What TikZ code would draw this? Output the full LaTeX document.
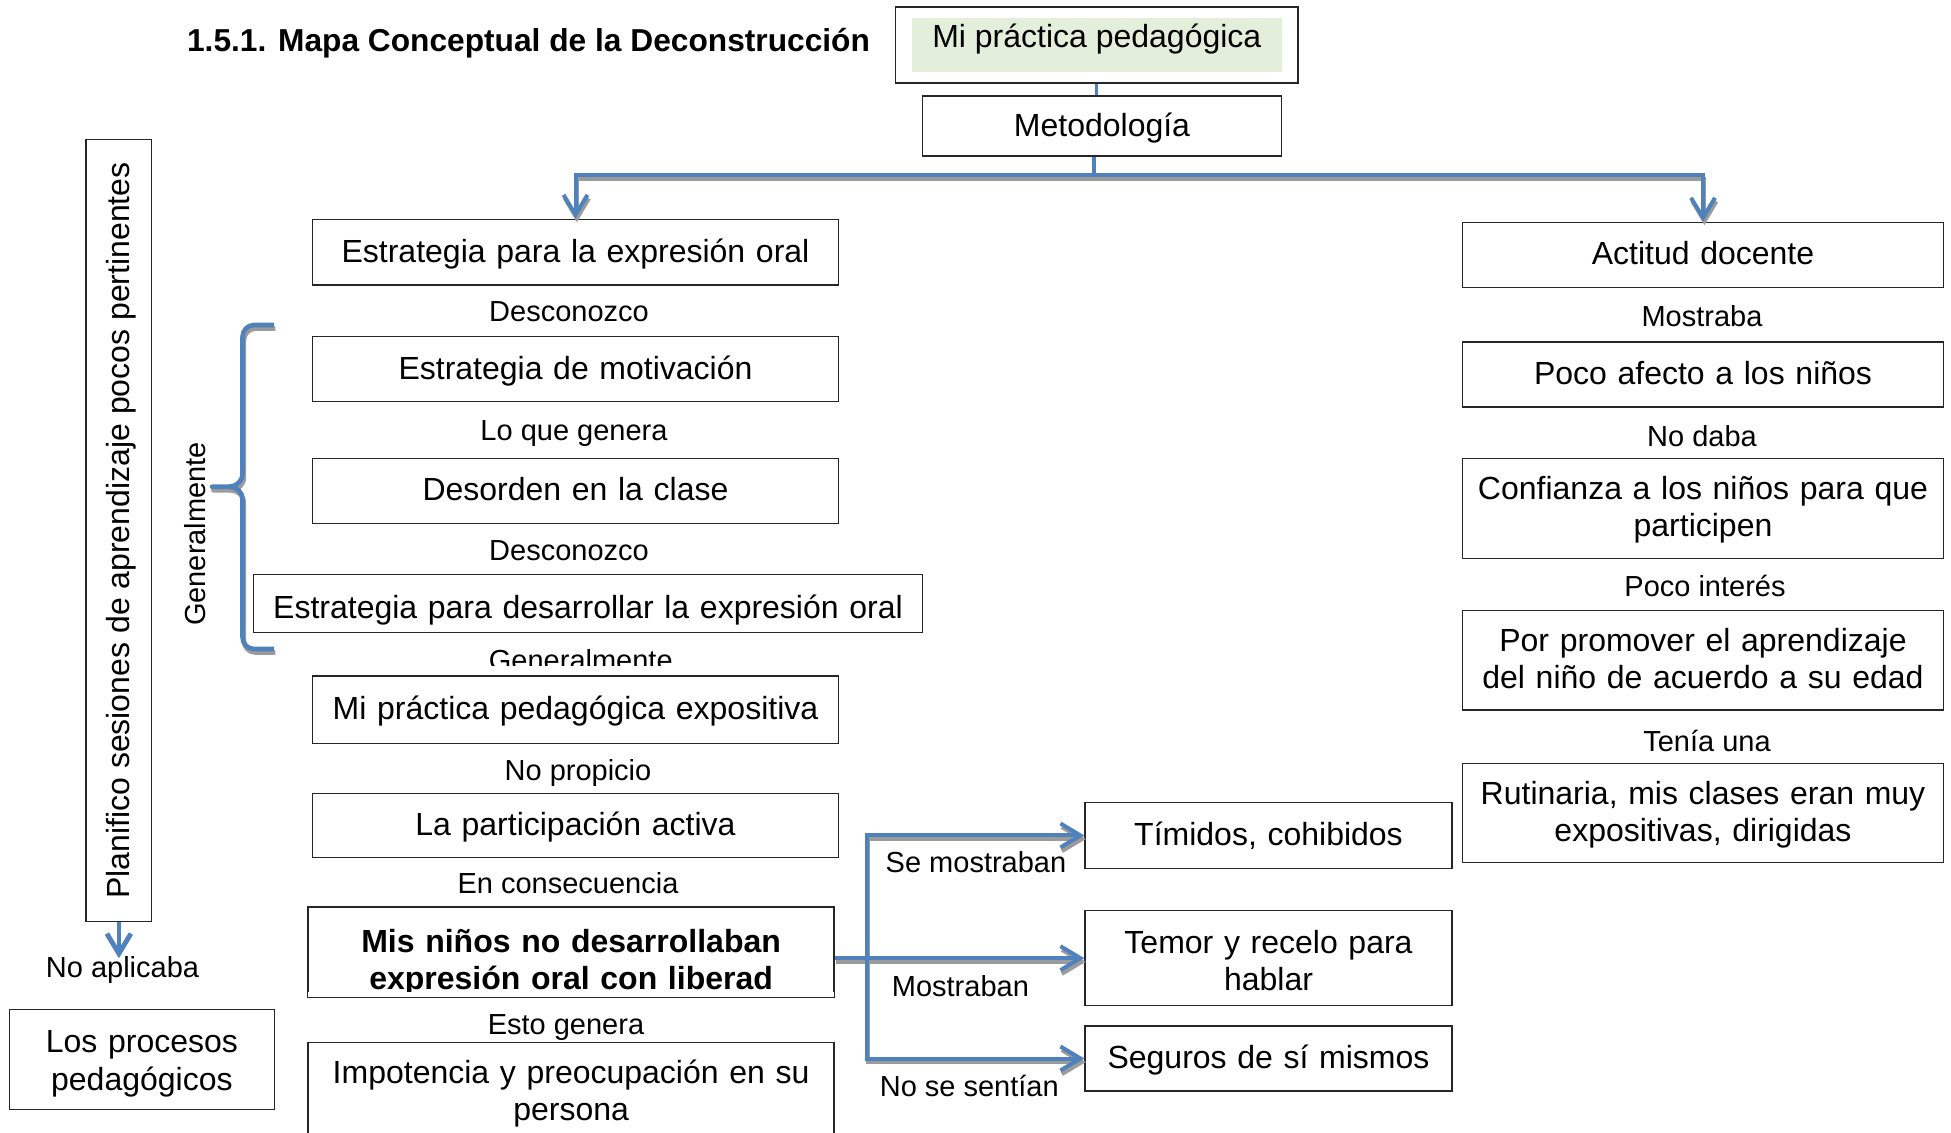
\documentclass[tikz,border=0pt]{standalone}
\usepackage{fontspec}
\setmainfont{Liberation Sans}
\usetikzlibrary{arrows.meta, fit}

\definecolor{mapblue}{RGB}{79,129,189}
\definecolor{mapgray}{RGB}{155,155,155}
\definecolor{mapgreen}{RGB}{227,239,219}

\tikzset{
  concept/.style={draw=black!85, line width=0.65pt, inner sep=0pt, align=center,
    font=\fontsize{16}{18.6}\selectfont, text height=12.5pt, text depth=2.4pt},
  twolines/.style={text depth=21pt},
  leftbox/.style={concept, text width=263pt},
  rightbox/.style={concept, text width=240.5pt},
  midbox/.style={concept, text width=183.5pt},
  linkword/.style={font=\fontsize{14.5}{16}\selectfont, anchor=base, inner sep=0pt},
  flow/.style={draw=mapblue, line width=2pt, >={Straight Barb[length=10pt, width=12pt]}},
  flowshadow/.style={draw=mapgray, line width=2pt, >={Straight Barb[length=10pt, width=12pt]},
    transform canvas={xshift=0.7pt, yshift=-1.8pt}},
  curlyline/.style={draw=mapblue, line width=2.3pt, line join=round}
}

\begin{document}
\begin{tikzpicture}[x=0.5pt, y=-0.5pt]
  \useasboundingbox (0,0) rectangle (1951,1133);

  \node[anchor=base west, font=\bfseries\fontsize{15.85}{18}\selectfont] at (180,52) (title) {1.5.1. Mapa Conceptual de la Deconstrucción};

  \node[fill=mapgreen, anchor=north, minimum width=184.8pt, inner xsep=0pt, inner ysep=2pt,
    text height=12.7pt, text depth=10.5pt, font=\fontsize{16}{17.5}\selectfont] at (1096.8,17.3) (root) {Mi práctica pedagógica};
  \node[draw=black!85, line width=0.65pt, fit=(root), inner xsep=8pt, inner ysep=5.2pt] (rootframe) {};
  \node[concept, minimum width=179.65pt, minimum height=30pt] at (1102,126) (metod) {Metodología};

  % columna izquierda
  \node[leftbox, minimum height=32.85pt] at (575.5,252.2) (estr1) {Estrategia para la expresión oral};
  \node[leftbox, minimum height=32.5pt] at (575.5,369.2) (motiv) {Estrategia de motivación};
  \node[leftbox, minimum height=32.5pt] at (575.5,490.8) (desord) {Desorden en la clase};
  \node[concept, text width=334.2pt, minimum height=29pt, text height=15.1pt, text depth=0pt] at (588,603.3) (estr2) {Estrategia para desarrollar la expresión oral};
  \node[leftbox, minimum height=33.65pt] at (575.5,709.7) (expos) {Mi práctica pedagógica expositiva};
  \node[leftbox, minimum height=32pt] at (575.5,825.3) (partic) {La participación activa};
  \begin{scope}
    \clip (300,900) rectangle (850,991);
    \node[leftbox, minimum height=44.65pt, text depth=12pt, font=\bfseries\fontsize{16}{18.6}\selectfont] at (571.1,952.2) (ninos) {Mis niños no desarrollaban\\expresión oral con liberad};
  \end{scope}
  \draw[draw=black!85, line width=0.65pt] (ninos.south west) rectangle (ninos.north east);
  \node[leftbox, twolines, anchor=north, inner ysep=8pt] at (571.1,1041.7) (impot) {Impotencia y preocupación en su\\persona};

  % columna derecha
  \node[rightbox, minimum height=32.5pt] at (1703,254.8) (actit) {Actitud docente};
  \node[rightbox, minimum height=32.5pt] at (1703,374.4) (afecto) {Poco afecto a los niños};
  \node[rightbox, twolines, minimum height=49.9pt] at (1703,508.3) (confi) {Confianza a los niños para que\\participen};
  \node[rightbox, twolines, minimum height=49.7pt] at (1703,660.2) (promov) {Por promover el aprendizaje\\del niño de acuerdo a su edad};
  \node[rightbox, twolines, minimum height=49.5pt] at (1703,813) (rutin) {Rutinaria, mis clases eran muy\\expositivas, dirigidas};

  \node[midbox, minimum height=32.8pt] at (1268.5,835.5) (timid) {Tímidos, cohibidos};
  \node[midbox, twolines, minimum height=47.5pt, text depth=17pt] at (1268.5,958.2) (temor) {Temor y recelo para\\hablar};
  \node[midbox, minimum height=32.5pt] at (1268.5,1058.5) (seguro) {Seguros de sí mismos};

  \node[concept, rotate=90, minimum width=391.2pt, minimum height=32.9pt] at (118.9,530.5) (planif) {Planifico sesiones de aprendizaje pocos pertinentes};
  \node[concept, twolines, text width=132.3pt, minimum height=50pt, text depth=19pt] at (141.9,1059.3) (procesos) {Los procesos\\pedagógicos};

  % palabras de enlace
  \node[linkword] at (569,321.7) (desc1) {Desconozco};
  \node[linkword] at (574,441) (genera1) {Lo que genera};
  \node[linkword] at (569,561) (desc2) {Desconozco};
  \begin{scope}
    \clip (400,600) rectangle (800,666);
    \node[linkword] at (580.8,670.3) (usual) {Generalmente};
  \end{scope}
  \node[linkword] at (578,781) (noprop) {No propicio};
  \node[linkword] at (568,894) (conse) {En consecuencia};
  \node[linkword] at (566,1034) (genera2) {Esto genera};
  \node[linkword] at (1702,326.2) (mostraba) {Mostraba};
  \node[linkword] at (1702,447) (nodaba) {No daba};
  \node[linkword] at (1705,597) (interes) {Poco interés};
  \node[linkword] at (1707,751.5) (tenia) {Tenía una};
  \node[linkword] at (976,873) (semost) {Se mostraban};
  \node[linkword] at (960.4,996) (mostraban) {Mostraban};
  \node[linkword] at (969.3,1096) (nosent) {No se sentían};
  \node[linkword] at (122.5,977.5) (noaplic) {No aplicaba};
  \node[linkword, anchor=center, rotate=90] at (195,534) (usual2) {Generalmente};

  % conectores
  \draw[flow, line width=1.6pt] (rootframe.south) -- (rootframe.south |- metod.north);
  \coordinate (hub) at (1094,175);
  \draw[flow, line width=1.6pt] (metod.south -| hub) -- (hub);
  \draw[flowshadow, <->] (estr1.north) |- (hub) -| (actit.north);
  \draw[flow, <->] (estr1.north) |- (hub) -| (actit.north);

  \coordinate (fork) at (867,957);
  \draw[flowshadow, ->] (ninos.east |- temor.west) -- (temor.west);
  \draw[flowshadow, <->] (timid.west) -| (fork) |- (seguro.west);
  \draw[flow, ->] (ninos.east |- temor.west) -- (temor.west);
  \draw[flow, <->] (timid.west) -| (fork) |- (seguro.west);

  \coordinate (noaplictip) at (118.9,958.3);
  \draw[flow, line width=2.4pt, ->] (planif.west) -- (noaplictip);

  \draw[flowshadow, line width=2.3pt, line join=round] (274,325) -- (254,325) to[out=180,in=90] (242.5,337) -- (242.5,474) to[out=270,in=0] (229,486.7) -- (212,486.7) -- (229,486.7) to[out=0,in=90] (242.5,499) -- (242.5,637) to[out=270,in=180] (254,649) -- (274,649);
  \draw[curlyline] (274,325) -- (254,325) to[out=180,in=90] (242.5,337) -- (242.5,474) to[out=270,in=0] (229,486.7) -- (212,486.7) -- (229,486.7) to[out=0,in=90] (242.5,499) -- (242.5,637) to[out=270,in=180] (254,649) -- (274,649);
\end{tikzpicture}
\end{document}
